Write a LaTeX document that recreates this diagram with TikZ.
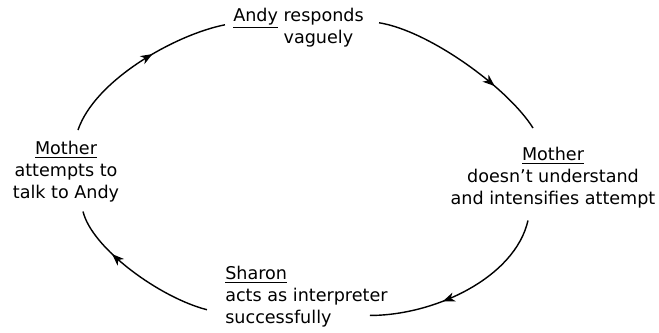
\documentclass[tikz,border=0pt]{standalone}
\usepackage{fontspec}
\setmainfont{DejaVu Sans}
\usetikzlibrary{arrows.meta,decorations.markings}
\tikzset{
  txt/.style={inner sep=0pt,font=\fontsize{12.5}{15.6}\selectfont},
  arcarrow/.style={line width=1pt,postaction={decorate},
    decoration={markings,mark=at position #1 with {\arrow{>}}}},
  arcarrow/.default=0.5
}
\begin{document}
\begin{tikzpicture}[x=0.025cm,y=-0.025cm,>={Stealth[length=8.5pt,width=6.5pt,inset=2.5pt]}]
   \useasboundingbox (0,0) rectangle (659,332);
   % ラベル
   \node[txt,anchor=north west,align=left] (andy) at (233,8) {\underline{Andy} responds\\\phantom{Andy }vaguely};
   \node[txt,anchor=north,align=center] (mom) at (66,141) {\underline{Mother}\\attempts to\\talk to Andy};
   \node[txt,anchor=north,align=center] (momR) at (553,147) {\underline{Mother}\\doesn't understand\\and intensifies attempt};
   \node[txt,anchor=north west,align=left] (sharon) at (225,266) {\underline{Sharon}\\acts as interpreter\\successfully};

   % 円環の矢印
   \draw[arcarrow=0.58] ([shift={(12,-11)}]mom.north) .. controls +(17,-50) and +(-50,10) .. ([shift={(-8,-3)}]andy.west);
   \draw[arcarrow=0.7] ([shift={(15,-5)}]andy.east) .. controls +(50,8) and +(-25,-40) .. ([shift={(-20,-19)}]momR.north);
   \draw[arcarrow=0.62] ([shift={(-25,12)}]momR.south) .. controls +(-13,57) and +(65,0) .. ([shift={(-18,-12)}]sharon.south east);
   \draw[arcarrow=0.68] ([shift={(-18,13)}]sharon.west) .. controls +(-47,-12) and +(9,37) .. ([shift={(17,9)}]mom.south);
\end{tikzpicture}
\end{document}
